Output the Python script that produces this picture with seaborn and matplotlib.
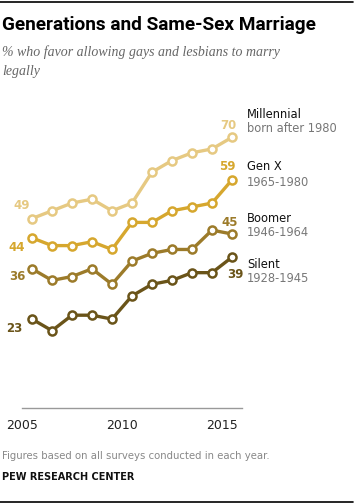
import pandas as pd
import numpy as np
import matplotlib
matplotlib.use("Agg")
import matplotlib.pyplot as plt
import seaborn as sns

# Survey years (points sit mid-year on the axis)
years = [2005, 2006, 2007, 2008, 2009, 2010, 2011, 2012, 2013, 2014, 2015]
millennial = [49, 51, 53, 54, 51, 53, 61, 64, 66, 67, 70]
gen_x = [44, 42, 42, 43, 41, 48, 48, 51, 52, 53, 59]
boomer = [36, 33, 34, 36, 32, 38, 40, 41, 41, 46, 45]
silent = [23, 20, 24, 24, 23, 29, 32, 33, 35, 35, 39]

generations = ["Millennial", "Gen X", "Boomer", "Silent"]
birth_years = ["born after 1980", "1965-1980", "1946-1964", "1928-1945"]
colors = ["#e6c982", "#d6a72e", "#9c7b2a", "#6a5419"]
series = [millennial, gen_x, boomer, silent]

W, H = 355, 504

df = pd.concat([
    pd.DataFrame({"year": np.array(years) + 0.5, "pct": vals, "gen": g})
    for g, vals in zip(generations, series)
])

sns.set_style("white")
plt.rcParams["font.family"] = ["DejaVu Sans"]

fig = plt.figure(figsize=(W / 100, H / 100), dpi=100)
ax = fig.add_axes([22 / W, (H - 408) / H, 220 / W, 290 / H])

# one call per generation so the marker edges get the line colour
for g, c in zip(generations, colors):
    sns.lineplot(
        data=df[df["gen"] == g], x="year", y="pct", color=c,
        marker="o", markersize=5.8, markerfacecolor="white", markeredgecolor=c,
        markeredgewidth=1.8, linewidth=2.4, ax=ax,
    )

ax.set_xlim(2005, 2016)
ax.set_ylim(0, 75)
ax.set_xticks([2005, 2010, 2015])
ax.set_xticklabels(["2005", "2010", "2015"], fontsize=9, color="#222222")
ax.set_yticks([])
ax.set_xlabel("")
ax.set_ylabel("")
for s in ["top", "right", "left"]:
    ax.spines[s].set_visible(False)
ax.spines["bottom"].set_color("#999999")
ax.spines["bottom"].set_linewidth(1)
ax.tick_params(axis="x", direction="out", length=4, width=1, color="#999999", pad=4)

# value labels at start and end of each line (offsets in pixels)
start_off = [(-10, 13), (-15, -10), (-15, -8), (-18, -9)]
end_off = [(-4, 12), (-5, 13), (-2, 11), (3, -17)]
for vals, c, so, eo in zip(series, colors, start_off, end_off):
    ax.annotate(str(vals[0]), (years[0] + 0.5, vals[0]), xytext=so, textcoords="offset pixels",
                ha="center", va="center", fontsize=8.5, fontweight="bold", color=c)
    ax.annotate(str(vals[-1]), (years[-1] + 0.5, vals[-1]), xytext=eo, textcoords="offset pixels",
                ha="center", va="center", fontsize=8.5, fontweight="bold", color=c)

def px(x, y):
    return x / W, 1 - y / H

# right-side series names
name_y = [114, 167, 218, 264]
for name, born, y in zip(generations, birth_years, name_y):
    fig.text(*px(247, y), name, fontsize=8.3, color="#111111", va="center", ha="left")
    fig.text(*px(247, y + 15), born, fontsize=8.3, color="#777777", va="center", ha="left")

# titles
fig.text(*px(2, 25), "Generations and Same-Sex Marriage", fontsize=13.7, fontweight="bold",
         family=["Roboto", "DejaVu Sans"], va="center", ha="left", color="#000000")
fig.text(*px(2, 52), "% who favor allowing gays and lesbians to marry", fontsize=10,
         style="italic", family=["Liberation Serif", "DejaVu Serif"], color="#666666", va="center")
fig.text(*px(2, 72), "legally", fontsize=10,
         style="italic", family=["Liberation Serif", "DejaVu Serif"], color="#666666", va="center")

fig.text(*px(2, 456), "Figures based on all surveys conducted in each year.", fontsize=7.3,
         color="#888888", va="center")
fig.text(*px(2, 477), "PEW RESEARCH CENTER", fontsize=7, fontweight="bold",
         color="#111111", va="center")

# rules at top and bottom
fig.add_artist(plt.Line2D([0, 353 / W], [1 - 1.5 / H] * 2, color="black", lw=1.2))
fig.add_artist(plt.Line2D([0, 353 / W], [1 - 502 / H] * 2, color="black", lw=1.2))

fig.savefig("out.png", dpi=100)
